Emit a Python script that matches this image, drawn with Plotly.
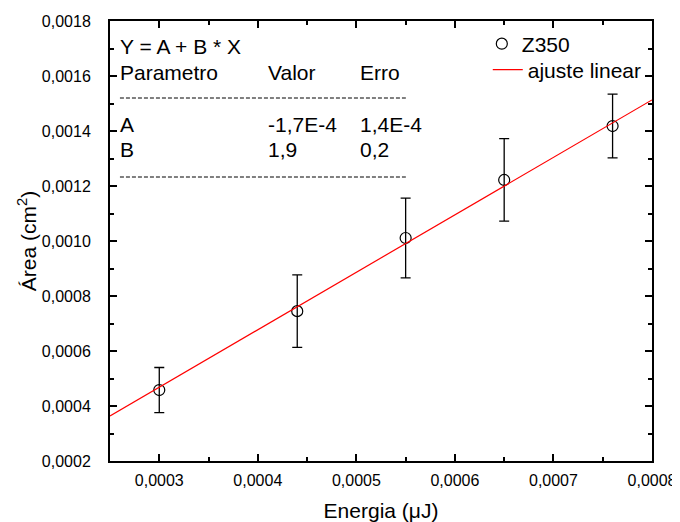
import plotly.graph_objects as go

energia = [0.00030, 0.00044, 0.00055, 0.00065, 0.00076]
area = [0.000458, 0.000745, 0.001011, 0.001222, 0.001418]
area_err = [0.000082, 0.000132, 0.000145, 0.000150, 0.000116]
fit_x = [0.00025, 0.00080]
fit_y = [0.000364, 0.001513]

FONT = "Liberation Sans, Arial, sans-serif"

fig = go.Figure()
fig.add_trace(go.Scatter(
    x=energia, y=area, mode="markers", name="Z350", legend="legend",
    marker=dict(symbol="circle-open", size=11, color="black", line=dict(width=1.2)),
    error_y=dict(type="data", array=area_err, visible=True, color="black",
                 thickness=1.3, width=5)))
fig.add_trace(go.Scatter(
    x=fit_x, y=fit_y, mode="lines", name="ajuste linear", legend="legend2",
    line=dict(color="red", width=1.2)))

axis_common = dict(
    showline=True, linecolor="black", linewidth=2, mirror="ticks",
    ticks="inside", ticklen=7, tickwidth=1.5, tickcolor="black",
    showgrid=False, zeroline=False, automargin=False,
    tickfont=dict(family=FONT, size=16, color="black"),
    minor=dict(ticks="inside", ticklen=4, tickwidth=1.5, tickcolor="black", showgrid=False),
)

fig.update_xaxes(range=[0.00025, 0.0008], dtick=0.0001, tick0=0.0003, tickformat=".4f",
                 minor_dtick=0.00005, ticklabelstandoff=4,
                 title=dict(text="Energia (μJ)", font=dict(family=FONT, size=21, color="black"),
                            standoff=15),
                 **axis_common)
fig.update_yaxes(range=[0.0002, 0.0018], dtick=0.0002, tick0=0.0002, tickformat=".4f",
                 minor_dtick=0.0001, ticklabelstandoff=14,
                 title=dict(text="Área (cm<sup>2</sup>)", font=dict(family=FONT, size=21, color="black"),
                            standoff=0),
                 **axis_common)

ann_font = dict(family=FONT, size=21, color="black")
texts = [
    ("Y = A + B * X", 0.0002601, 0.001709),
    ("Parametro", 0.0002601, 0.0016145),
    ("Valor", 0.0004102, 0.0016145),
    ("Erro", 0.0005035, 0.0016145),
    ("A", 0.0002601, 0.001422),
    ("-1,7E-4", 0.0004102, 0.001422),
    ("1,4E-4", 0.0005035, 0.001422),
    ("B", 0.0002601, 0.001331),
    ("1,9", 0.0004102, 0.001331),
    ("0,2", 0.0005035, 0.001331),
]
for t, x, y in texts:
    fig.add_annotation(x=x, y=y, text=t, showarrow=False, xanchor="left", yanchor="middle",
                       xshift=-2, font=ann_font)
for y in [0.00152, 0.0012327]:
    fig.add_shape(type="line", x0=0.0002601, x1=0.0005502, y0=y, y1=y,
                  line=dict(color="black", width=1, dash="4px,2px"))

leg_common = dict(xanchor="left", yanchor="middle", bgcolor="rgba(0,0,0,0)",
                  font=dict(family=FONT, size=21, color="black"))
fig.update_layout(
    width=672, height=514,
    margin=dict(l=102, r=28, t=13, b=61, autoexpand=False),
    paper_bgcolor="white", plot_bgcolor="white",
    separators=",.",
    font=dict(family=FONT, color="black"),
    legend=dict(x=0.686, y=0.9477, **leg_common),
    legend2=dict(x=0.697, y=0.8886, **leg_common),
    showlegend=True,
)

fig.write_html("out.html")
